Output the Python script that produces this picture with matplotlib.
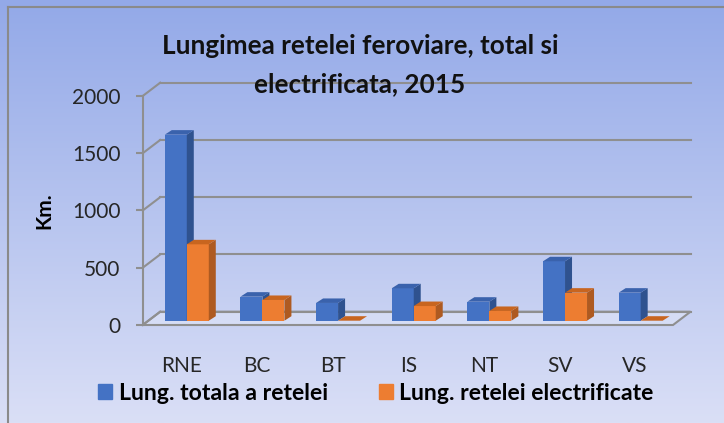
import numpy as np
import matplotlib.pyplot as plt
from matplotlib.patches import Polygon, Patch
from matplotlib.lines import Line2D
from matplotlib.colors import LinearSegmentedColormap

plt.rcParams['font.family'] = ['Lato', 'DejaVu Sans']

# date: lungimea retelei feroviare (km), 2015
regiuni = ['RNE', 'BC', 'BT', 'IS', 'NT', 'SV', 'VS']
lung_totala = [1625, 210, 155, 283, 166, 519, 245]
lung_electrificata = [667, 181, 0, 128, 85, 245, 0]
yticks = [0, 500, 1000, 1500, 2000]
serii = ['Lung. totala a retelei', 'Lung. retelei electrificate']

W, H = 724, 423
fig = plt.figure(figsize=(W / 100, H / 100), dpi=100)

# fundal cu degrade
bg = fig.add_axes([0, 0, 1, 1], zorder=-10)
cmap = LinearSegmentedColormap.from_list('bg', ['#93a9e8', '#dadff6'])
bg.imshow(np.linspace(0, 1, 256).reshape(-1, 1), aspect='auto', cmap=cmap,
          extent=[0, 1, 0, 1])
bg.axis('off')
fig.add_artist(Line2D([8 / W, 1], [1 - 7 / H, 1 - 7 / H], color='#8a8a8a', lw=1.5))
fig.add_artist(Line2D([8 / W, 8 / W], [0, 1 - 7 / H], color='#8a8a8a', lw=1.5))

x0_px, x1_px, y0_px, y1_px = 142.7, 673, 325, 96
ax = fig.add_axes([x0_px / W, (H - y0_px) / H, (x1_px - x0_px) / W, (y0_px - y1_px) / H])
ax.patch.set_alpha(0)
xmin, xmax = -0.51, 6.5
ax.set_xlim(xmin, xmax)
ax.set_ylim(0, 2000)
sx = (x1_px - x0_px) / (xmax - xmin)   # px per unitate x
sy = (y0_px - y1_px) / 2000            # px per km

def px(dx, dy):
    return dx / sx, dy / sy

grid_c = '#8f8f8f'
fdx, fdy = px(17.5, 13.3)

# podea
ax.add_patch(Polygon([(xmin, 0), (xmax, 0), (xmax + fdx, fdy), (xmin + fdx, fdy)],
                     closed=True, fc=(1, 1, 1, 0.25), ec=grid_c, lw=1.5,
                     clip_on=False, zorder=1))
# grila pe peretele din spate
for t in yticks:
    ax.plot([xmin + fdx, xmax + fdx], [t + fdy, t + fdy], color=grid_c, lw=1.5,
            clip_on=False, zorder=1)
    ax.plot([xmin, xmin + fdx], [t, t + fdy], color=grid_c, lw=1.5,
            clip_on=False, zorder=1)

# bare 3D
bw = 22 / sx
bdx, bdy = px(5.5, 4.3)
ddx, ddy = px(7, 4.5)
culori = [('#4472C4', '#2F528F', '#3A62AC'), ('#ED7D31', '#AE5A21', '#C8651F')]
x = np.arange(len(regiuni))
for j, vals in enumerate([lung_totala, lung_electrificata]):
    front, side, top = culori[j]
    xl = x - bw + j * bw + bdx
    ax.bar(xl, vals, width=bw, bottom=bdy, align='edge', color=front,
           zorder=3 + j, clip_on=False)
    for xi, v in zip(xl, vals):
        xr = xi + bw
        b, h = bdy, bdy + v
        ax.add_patch(Polygon([(xr, b), (xr, h), (xr + ddx, h + ddy), (xr + ddx, b + ddy)],
                             fc=side, ec='none', zorder=3 + j, clip_on=False))
        ax.add_patch(Polygon([(xi, h), (xr, h), (xr + ddx, h + ddy), (xi + ddx, h + ddy)],
                             fc=top, ec='none', zorder=3 + j, clip_on=False))

for s in ['top', 'right', 'bottom']:
    ax.spines[s].set_visible(False)
ax.spines['left'].set_color(grid_c)
ax.spines['left'].set_linewidth(1.5)
ax.set_yticks(yticks)
ax.set_xticks(x, regiuni)
ax.tick_params(axis='y', colors=grid_c, length=5, width=1.5, pad=11, labelsize=15,
               labelcolor='#262626')
ax.tick_params(axis='x', length=0, pad=22, labelsize=15, labelcolor='#262626')
ax.set_ylabel('Km.', fontsize=15, fontweight='bold', labelpad=13)

fig.text(360 / W, 1 - 65 / H, 'Lungimea retelei feroviare, total si\nelectrificata, 2015',
         ha='center', va='center', fontsize=18.8, fontweight='bold', linespacing=1.75,
         color='#111111')

handles = [Patch(color=culori[0][0]), Patch(color=culori[1][0])]
fig.legend(handles, serii, loc='center', bbox_to_anchor=(376 / W, 1 - 393 / H), ncol=2,
           frameon=False, handlelength=0.6, handleheight=0.6, handletextpad=0.3,
           columnspacing=2.2, prop={'size': 16.6, 'weight': 'bold'})

fig.savefig('out.png', dpi=100)
